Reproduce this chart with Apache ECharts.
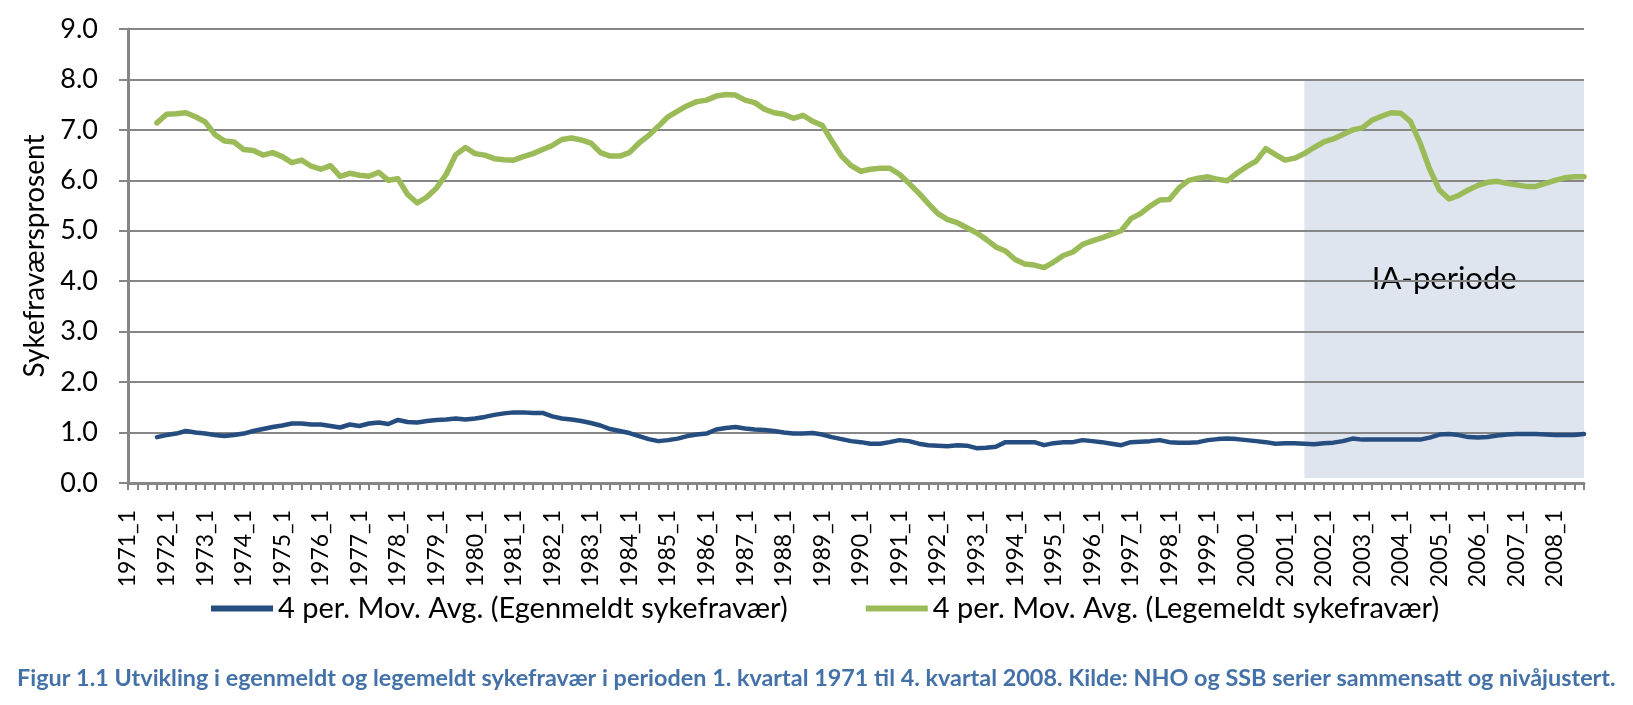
<!DOCTYPE html>
<html>
<head>
<meta charset="utf-8">
<script src="https://cdn.jsdelivr.net/npm/echarts@6/dist/echarts.min.js"></script>
<style>
html,body{margin:0;padding:0;background:#fff;}
#chart{width:1633px;height:705px;}
</style>
</head>
<body>
<div id="chart"></div>
<script>
// ---- data ----
const firstYear = 1971;
const lastYear = 2008;
const quarters = [1, 2, 3, 4];
const categories = [];
for (let y = firstYear; y <= lastYear; y++) {
  for (const q of quarters) categories.push(y + '_' + q);
}

// 4 per. Mov. Avg. (Egenmeldt sykefravær), 1971_1 .. 2008_4
const egenmeldt = [
  null, null, null,
  0.91, 0.95, 0.98, 1.03, 1.00, 0.98, 0.95, 0.93, 0.95, 0.98,
  1.03, 1.07, 1.11, 1.14, 1.18, 1.18, 1.16, 1.16, 1.13, 1.10,
  1.16, 1.13, 1.18, 1.20, 1.17, 1.25, 1.21, 1.20, 1.23, 1.25,
  1.26, 1.28, 1.26, 1.28, 1.31, 1.35, 1.38, 1.40, 1.40, 1.39,
  1.39, 1.32, 1.28, 1.26, 1.23, 1.19, 1.14,
  1.07, 1.03, 0.99, 0.93, 0.87, 0.83, 0.85, 0.88, 0.93, 0.96,
  0.98, 1.06, 1.09, 1.11, 1.08, 1.06, 1.05, 1.03, 1.00, 0.98,
  0.98, 0.99, 0.96, 0.91, 0.87, 0.83, 0.81, 0.78, 0.78, 0.81,
  0.85, 0.83, 0.78, 0.75, 0.74, 0.73, 0.75, 0.74, 0.69, 0.70,
  0.72, 0.81, 0.81, 0.81, 0.81, 0.75, 0.79, 0.81, 0.81,
  0.85, 0.83, 0.81, 0.78, 0.75, 0.81, 0.82, 0.83, 0.85, 0.81,
  0.80, 0.80, 0.81, 0.85, 0.87, 0.88, 0.87, 0.85, 0.83, 0.81,
  0.78, 0.79, 0.79, 0.78, 0.77, 0.79, 0.80, 0.83, 0.88, 0.86,
  0.86, 0.86, 0.86, 0.86, 0.86, 0.86, 0.90, 0.96, 0.97, 0.95,
  0.91, 0.90, 0.91, 0.94, 0.96, 0.97, 0.97, 0.97, 0.96, 0.95,
  0.95, 0.95, 0.97
];

// 4 per. Mov. Avg. (Legemeldt sykefravær), 1971_1 .. 2008_4
const legemeldt = [
  null, null, null,
  7.14, 7.31, 7.32, 7.34, 7.26, 7.16, 6.91, 6.78, 6.76, 6.61,
  6.59, 6.50, 6.55, 6.47, 6.35, 6.40, 6.28, 6.22, 6.29, 6.08,
  6.14, 6.10, 6.08, 6.16, 6.00, 6.03, 5.72, 5.55, 5.67, 5.85,
  6.12, 6.51, 6.65, 6.53, 6.50, 6.43, 6.41, 6.40, 6.47, 6.53,
  6.61, 6.69, 6.81, 6.84, 6.80, 6.74, 6.55, 6.48,
  6.48, 6.55, 6.74, 6.89, 7.07, 7.26, 7.37, 7.48, 7.56, 7.59,
  7.67, 7.70, 7.69, 7.59, 7.54, 7.41, 7.34, 7.31, 7.23, 7.29,
  7.17, 7.09, 6.78, 6.48, 6.29, 6.18, 6.22, 6.24, 6.24, 6.12,
  5.94, 5.75, 5.54, 5.34, 5.22, 5.16, 5.06, 4.96, 4.83, 4.68,
  4.60, 4.43, 4.34, 4.32, 4.27, 4.38, 4.51, 4.58, 4.73, 4.80,
  4.86, 4.93, 5.00, 5.24, 5.34, 5.49, 5.61, 5.62, 5.85, 6.00,
  6.04, 6.07, 6.02, 5.99, 6.14, 6.27, 6.38, 6.63, 6.51, 6.40,
  6.44, 6.53, 6.65, 6.76, 6.82, 6.91, 7.00, 7.04, 7.19, 7.27,
  7.34, 7.33, 7.17, 6.74, 6.22, 5.81, 5.63, 5.70, 5.81, 5.90,
  5.96, 5.98, 5.94, 5.91, 5.88, 5.88, 5.94, 6.00, 6.05, 6.07,
  6.07
];

// IA-periode shading: from / to category, and value range
const iaPeriodX = ['2001_3', '2008_4'];
const iaPeriodY = [0.1, 8.0];
const iaLabel = 'IA-periode';

const seriesNames = ['4 per. Mov. Avg. (Egenmeldt sykefravær)', '4 per. Mov. Avg. (Legemeldt sykefravær)'];
const yName = 'Sykefraværsprosent';
const caption = 'Figur 1.1 Utvikling i egenmeldt og legemeldt sykefravær i perioden 1. kvartal 1971 til 4. kvartal 2008. Kilde: NHO og SSB serier sammensatt og nivåjustert.';

// ---- chart ----
const chart = echarts.init(document.getElementById('chart'), null, {renderer: 'canvas'});
const gray = '#868686';
const calib = 'Lato, "Open Sans", sans-serif';

chart.setOption({
  animation: false,
  backgroundColor: '#fff',
  title: {
    text: caption,
    left: 12, top: 662,
    textStyle: {fontFamily: calib, fontWeight: 'bold', fontSize: 23.4, color: '#4472A8'}
  },
  legend: {
    data: seriesNames,
    left: 206, top: 589,
    icon: 'rect', itemWidth: 62, itemHeight: 6, itemGap: 78,
    textStyle: {fontFamily: calib, fontSize: 29, color: '#000'}
  },
  grid: {left: 128, right: 49, top: 29, bottom: 222, containLabel: false},
  xAxis: {
    type: 'category',
    data: categories,
    boundaryGap: false,
    axisLine: {lineStyle: {color: gray, width: 3}},
    axisTick: {show: true, interval: 0, length: 7, lineStyle: {color: gray, width: 2}},
    axisLabel: {interval: 3, rotate: 90, margin: 27, fontFamily: calib, fontSize: 23, color: '#000'},
    splitLine: {show: false}
  },
  yAxis: {
    type: 'value',
    min: 0, max: 9, interval: 1,
    z: 2,
    name: yName,
    nameLocation: 'middle',
    nameRotate: 90,
    nameGap: 70,
    nameTextStyle: {fontFamily: calib, fontSize: 28, color: '#000'},
    axisLine: {show: true, lineStyle: {color: gray, width: 3}},
    axisTick: {show: true, length: 9, lineStyle: {color: gray, width: 2}},
    axisLabel: {margin: 30, fontFamily: calib, fontSize: 27, color: '#000', formatter: v => v.toFixed(1)},
    splitLine: {show: true, lineStyle: {color: gray, width: 2}}
  },
  series: [
    {
      name: 'IA',
      type: 'line',
      data: [],
      z: 1,
      silent: true,
      markArea: {
        silent: true,
        itemStyle: {color: '#dfe5ee'},
        label: {show: true, position: 'inside', color: '#000', fontFamily: calib, fontSize: 31},
        data: [[
          {xAxis: iaPeriodX[0], yAxis: iaPeriodY[0], name: iaLabel},
          {xAxis: iaPeriodX[1], yAxis: iaPeriodY[1]}
        ]]
      }
    },
    {
      name: seriesNames[0],
      type: 'line',
      data: egenmeldt,
      z: 3,
      showSymbol: false,
      symbol: 'none',
      itemStyle: {color: '#254D80'},
      lineStyle: {color: '#254D80', width: 4.5, cap: 'round', join: 'round'}
    },
    {
      name: seriesNames[1],
      type: 'line',
      data: legemeldt,
      z: 3,
      showSymbol: false,
      symbol: 'none',
      itemStyle: {color: '#9BBB59'},
      lineStyle: {color: '#9BBB59', width: 5.5, cap: 'round', join: 'round'}
    }
  ]
});
</script>
</body>
</html>
